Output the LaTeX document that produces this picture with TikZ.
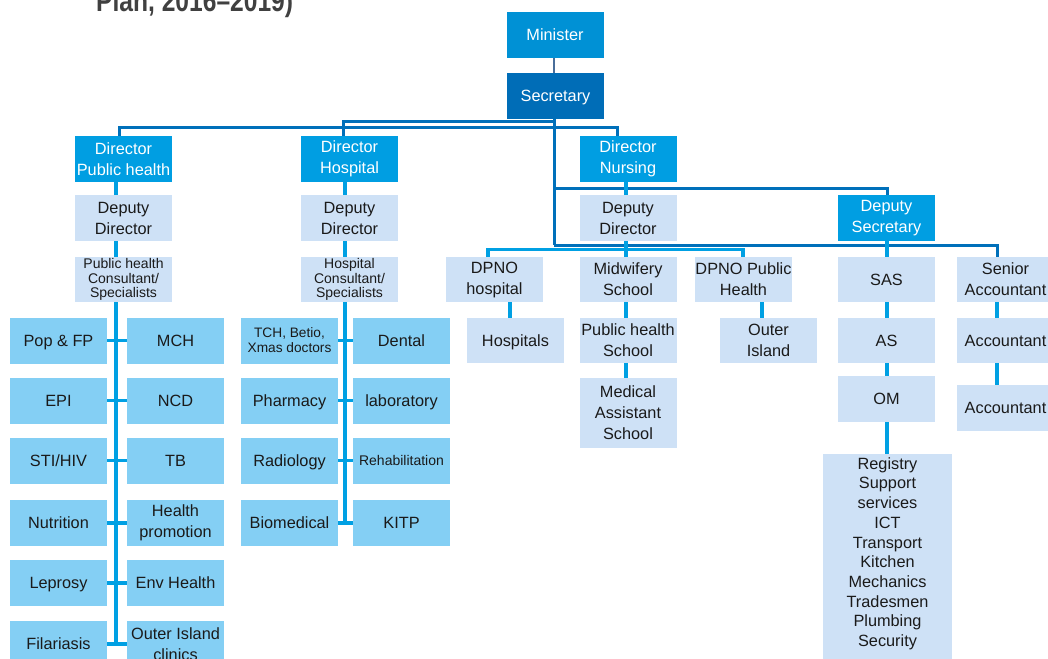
\documentclass[tikz,border=0pt]{standalone}
\usepackage{fontspec}
\setmainfont{Liberation Sans}
\newfontfamily\titlefont{Liberation Sans}[FakeStretch=0.82]
\definecolor{ministerc}{RGB}{0,145,213}
\definecolor{secc}{RGB}{0,109,183}
\definecolor{dirc}{RGB}{0,158,226}
\definecolor{lightc}{RGB}{206,225,246}
\definecolor{gridc}{RGB}{132,207,244}
\definecolor{darkline}{RGB}{0,112,186}
\definecolor{cyanline}{RGB}{0,160,227}
\definecolor{msline}{RGB}{74,110,154}
\definecolor{txt}{RGB}{26,26,26}
\definecolor{titlegray}{RGB}{64,64,64}
\begin{document}
\begin{tikzpicture}[x=1bp,y=-1bp,
  base/.style={draw=none, inner sep=0pt, align=center, minimum width=97bp, minimum height=46bp,
    font=\fontsize{16.3bp}{21bp}\selectfont, text=txt},
  one/.style={text height=11.5bp, text depth=0pt},
  minbox/.style={base, fill=ministerc, text=white},
  secbox/.style={base, fill=secc, text=white},
  dirbox/.style={base, fill=dirc, text=white},
  lightbox/.style={base, fill=lightc},
  gridbox/.style={base, fill=gridc},
  smalltext/.style={font=\fontsize{14bp}{14.5bp}\selectfont},
  dk/.style={draw=darkline, line width=3bp},
  cy/.style={draw=cyanline, line width=3.4bp},
  ms/.style={draw=msline, line width=2.2bp}]
\useasboundingbox (0,0) rectangle (1048,659);

% title (partly cut by the top edge, as in the reference)
\node[anchor=base west, inner sep=0pt, text=titlegray,
  font={\titlefont\fontsize{30bp}{30bp}\bfseries\selectfont}] (title) at (96,12) {Plan, 2016–2019)};

% top
\node[minbox, one] (min) at (555,35) {Minister};
\node[secbox, one] (sec) at (555.5,96) {Secretary};

% directors
\node[dirbox] (dph) at (123.5,159) {Director\\Public health};
\node[dirbox] (dhos) at (349.5,159) {Director\\Hospital};
\node[dirbox] (dnur) at (628,159) {Director\\Nursing};
\node[dirbox] (dsec) at (886.5,218) {Deputy\\Secretary};

% deputy directors
\node[lightbox] (ddph) at (123.5,218) {Deputy\\Director};
\node[lightbox] (ddhos) at (349.5,218) {Deputy\\Director};
\node[lightbox] (ddnur) at (628,218) {Deputy\\Director};

% third level
\node[lightbox, minimum height=45bp, smalltext] (phc) at (123.5,279.5) {Public health\\Consultant/\\Specialists};
\node[lightbox, minimum height=45bp, smalltext] (hosc) at (349.5,279.5) {Hospital\\Consultant/\\Specialists};
\node[lightbox, minimum height=45bp] (dpnoh) at (494.5,279.5) {DPNO\\hospital};
\node[lightbox, minimum height=45bp] (mid) at (628,279.5) {Midwifery\\School};
\node[lightbox, minimum height=45bp] (dpnop) at (743.5,279.5) {DPNO Public\\Health};
\node[lightbox, minimum height=45bp, one] (sas) at (886.5,279.5) {SAS};
\node[lightbox, minimum height=45bp] (sacc) at (1005.5,279.5) {Senior\\Accountant};

% fourth level (nursing / admin)
\node[lightbox, minimum height=45bp, one] (hosps) at (515.5,340.5) {Hospitals};
\node[lightbox, minimum height=45bp] (phs) at (628,340.5) {Public health\\School};
\node[lightbox, minimum height=45bp] (outer) at (768.5,340.5) {Outer\\Island};
\node[lightbox, minimum height=45bp, one] (as) at (886.5,340.5) {AS};
\node[lightbox, minimum height=45bp, one] (acc1) at (1005.5,340.5) {Accountant};
\node[lightbox, minimum height=70bp] (mas) at (628,413) {Medical\\Assistant\\School};
\node[lightbox, one] (om) at (886.5,399) {OM};
\node[lightbox, one] (acc2) at (1005.5,408) {Accountant};
\node[lightbox, minimum width=129bp, minimum height=208bp, text depth=12bp,
  font=\fontsize{16.3bp}{19.7bp}\selectfont] (reg) at (887.5,558)
  {Registry\\Support\\services\\ICT\\Transport\\Kitchen\\Mechanics\\Tradesmen\\Plumbing\\Security};

% public health grid
\node[gridbox, one] (pop) at (58.5,340.5) {Pop \& FP};
\node[gridbox, one] (mch) at (175.5,340.5) {MCH};
\node[gridbox, one] (epi) at (58.5,400.5) {EPI};
\node[gridbox, one] (ncd) at (175.5,400.5) {NCD};
\node[gridbox, one] (sti) at (58.5,460.5) {STI/HIV};
\node[gridbox, one] (tb) at (175.5,460.5) {TB};
\node[gridbox, one] (nut) at (58.5,523) {Nutrition};
\node[gridbox] (hp) at (175.5,523) {Health\\promotion};
\node[gridbox, one] (lep) at (58.5,583) {Leprosy};
\node[gridbox, one] (env) at (175.5,583) {Env Health};
\node[gridbox, one] (fil) at (58.5,644) {Filariasis};
\node[gridbox] (oic) at (175.5,644) {Outer Island\\clinics};

% hospital grid
\node[gridbox, font=\fontsize{13.7bp}{15bp}\selectfont] (tch) at (289.5,340.5) {TCH, Betio,\\Xmas doctors};
\node[gridbox, one] (den) at (401.5,340.5) {Dental};
\node[gridbox, one] (pha) at (289.5,400.5) {Pharmacy};
\node[gridbox, one] (lab) at (401.5,400.5) {laboratory};
\node[gridbox, one] (rad) at (289.5,460.5) {Radiology};
\node[gridbox, font=\fontsize{14bp}{16bp}\selectfont, text height=10bp, text depth=0pt] (reh) at (401.5,460.5) {Rehabilitation};
\node[gridbox, one] (bio) at (289.5,523) {Biomedical};
\node[gridbox, one] (kitp) at (401.5,523) {KITP};

% helper coordinates
\coordinate (s122) at (554,122);
\coordinate (h122) at (343,122);
\coordinate (b128l) at (119,128);
\coordinate (b128r) at (617,128);
\coordinate (s188) at (554,188);
\coordinate (d188) at (887,188);
\coordinate (s245) at (554,245);
\coordinate (a245) at (997,245);
\coordinate (phx) at (116,0);
\coordinate (hx) at (345,0);
\coordinate (nx) at (626,0);
\coordinate (c249l) at (488,249.5);
\coordinate (c249r) at (743,249.5);
\coordinate (hpx) at (510,0);
\coordinate (ox) at (762,0);
\coordinate (sx) at (887,0);
\coordinate (ax) at (997,0);

% dark connectors
\draw[ms] (min.south -| s122) -- (sec.north -| s122);
\draw[dk] (sec.south -| s122) -- (s245);
\draw[dk] (s122) -- (h122) -- (dhos.north -| h122);
\draw[dk] (dph.north -| b128l) -- (b128l) -- (b128r) -- (dnur.north -| b128r);
\draw[dk] (s188) -- (d188) -- (dsec.north -| d188);
\draw[dk] (s245) -- (a245) -- (sacc.north -| a245);

% public health column
\draw[cy] (dph.south -| phx) -- (ddph.north -| phx);
\draw[cy] (ddph.south -| phx) -- (phc.north -| phx);
\draw[cy] (phc.south -| phx) -- (phx |- fil.east);
\foreach \a/\b in {pop/mch, epi/ncd, sti/tb, nut/hp, lep/env, fil/oic}
  \draw[cy] (\a.east) -- (\b.west);

% hospital column
\draw[cy] (dhos.south -| hx) -- (ddhos.north -| hx);
\draw[cy] (ddhos.south -| hx) -- (hosc.north -| hx);
\draw[cy] (hosc.south -| hx) -- (hx |- bio.east);
\foreach \a/\b in {tch/den, pha/lab, rad/reh, bio/kitp}
  \draw[cy] (\a.east) -- (\b.west);

% nursing column
\draw[cy] (dnur.south -| nx) -- (ddnur.north -| nx);
\draw[cy] (ddnur.south -| nx) -- (mid.north -| nx);
\draw[cy] (dpnoh.north -| c249l) -- (c249l) -- (c249r) -- (dpnop.north -| c249r);
\draw[cy] (mid.south -| nx) -- (phs.north -| nx);
\draw[cy] (phs.south -| nx) -- (mas.north -| nx);
\draw[cy] (dpnoh.south -| hpx) -- (hosps.north -| hpx);
\draw[cy] (dpnop.south -| ox) -- (outer.north -| ox);

% admin column
\draw[cy] (dsec.south -| sx) -- (sas.north -| sx);
\draw[cy] (sas.south -| sx) -- (as.north -| sx);
\draw[cy] (as.south -| sx) -- (om.north -| sx);
\draw[cy] (om.south -| sx) -- (reg.north -| sx);
\draw[cy] (sacc.south -| ax) -- (acc1.north -| ax);
\draw[cy] (acc1.south -| ax) -- (acc2.north -| ax);
\end{tikzpicture}
\end{document}
